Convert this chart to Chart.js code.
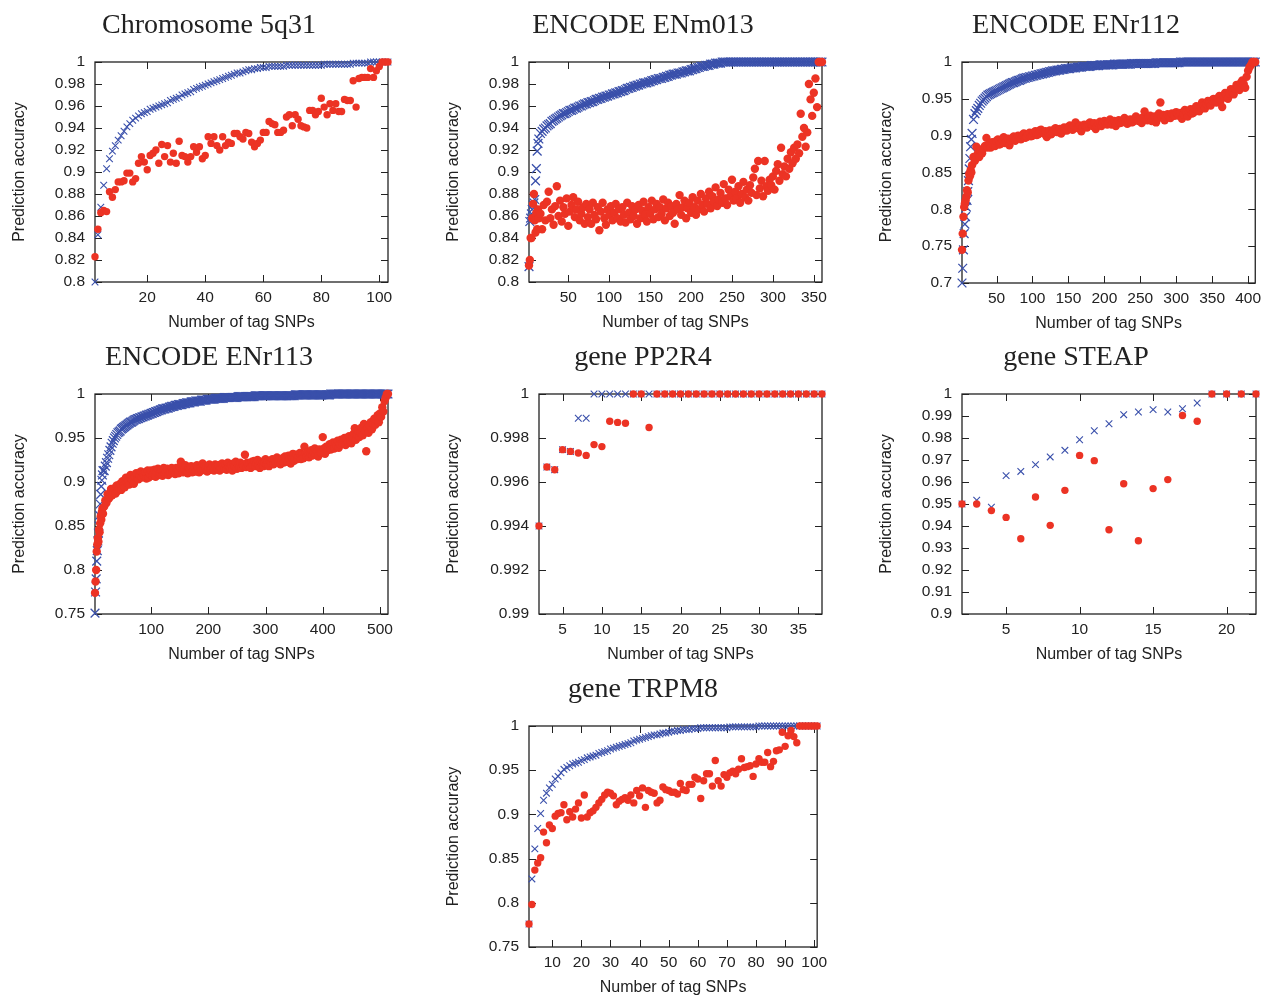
<!DOCTYPE html>
<html lang="en">
<head>
<meta charset="UTF-8">
<title>Prediction accuracy vs number of tag SNPs</title>
<style>
  html, body { margin: 0; padding: 0; background: #fff; overflow: hidden; }
  body { width: 1268px; height: 996px; position: relative; }
  canvas { position: absolute; }
</style>
</head>
<body>
<canvas id="c1"></canvas>
<canvas id="c2"></canvas>
<canvas id="c3"></canvas>
<canvas id="c4"></canvas>
<canvas id="c5"></canvas>
<canvas id="c6"></canvas>
<canvas id="c7"></canvas>

<script src="https://cdn.jsdelivr.net/npm/chart.js"></script>
<script>
// x values are tag SNP counts (consecutive integers)
function range(a, b, step) {
  const out = [];
  for (let v = a; v <= b; v += (step || 1)) out.push(v);
  return out;
}

// ---- Chromosome 5q31 ----
const chr5X = range(2, 103);
const chr5Blue = [
  0.800,0.843,0.868,0.888,0.903,0.912,0.919,0.924,0.929,0.933,
  0.937,0.941,0.944,0.947,0.949,0.951,0.953,0.954,0.955,0.957,
  0.958,0.959,0.960,0.961,0.962,0.963,0.965,0.966,0.967,0.968,
  0.970,0.971,0.972,0.973,0.975,0.976,0.977,0.978,0.979,0.980,
  0.981,0.982,0.983,0.984,0.985,0.986,0.987,0.988,0.989,0.990,
  0.990,0.991,0.992,0.993,0.993,0.994,0.994,0.995,0.995,0.995,
  0.996,0.996,0.996,0.996,0.996,0.996,0.997,0.997,0.997,0.997,
  0.997,0.997,0.997,0.997,0.997,0.997,0.997,0.997,0.997,0.998,
  0.998,0.998,0.998,0.998,0.998,0.998,0.998,0.998,0.998,0.999,
  0.999,0.999,0.999,0.999,0.999,1,1,1,1,1,
  1,1
];
const chr5Red = [
  0.823,0.848,0.863,0.865,0.864,0.882,0.877,0.884,0.891,0.891,
  0.892,0.899,0.899,0.891,0.894,0.908,0.914,0.909,0.902,0.915,
  0.917,0.920,0.908,0.925,0.914,0.924,0.909,0.917,0.908,0.928,
  0.915,0.914,0.909,0.914,0.923,0.918,0.923,0.912,0.915,0.932,
  0.926,0.932,0.924,0.920,0.932,0.924,0.927,0.926,0.935,0.935,
  0.932,0.930,0.936,0.935,0.927,0.923,0.926,0.929,0.936,0.936,
  0.946,0.944,0.943,0.936,0.936,0.938,0.950,0.952,0.942,0.952,
  0.948,0.942,0.941,0.940,0.956,0.956,0.952,0.955,0.967,0.959,
  0.952,0.962,0.956,0.962,0.955,0.955,0.966,0.965,0.965,0.983,
  0.959,0.985,0.986,0.986,0.986,0.994,0.986,0.992,0.996,1,
  1,1
];

// ---- ENCODE ENm013 ----
const enm013X = [...range(2, 14), ...range(16, 360, 2)];
const enm013Blue = [
  0.814,0.855,0.858,0.862,0.866,0.870,0.872,0.875,0.892,0.903,0.919,0.926,0.930,
  0.935,0.937,0.939,0.940,0.942,0.943,0.944,0.946,0.947,0.948,
  0.949,0.950,0.951,0.952,0.953,0.953,0.954,0.955,0.956,0.956,
  0.957,0.958,0.958,0.959,0.960,0.960,0.961,0.962,0.962,0.963,
  0.963,0.964,0.964,0.965,0.966,0.966,0.967,0.967,0.968,0.968,
  0.969,0.969,0.970,0.970,0.971,0.971,0.972,0.972,0.973,0.973,
  0.974,0.974,0.975,0.976,0.976,0.977,0.977,0.978,0.978,0.979,
  0.979,0.980,0.980,0.981,0.981,0.981,0.982,0.982,0.983,0.983,
  0.984,0.984,0.985,0.985,0.985,0.986,0.986,0.987,0.987,0.988,
  0.988,0.989,0.989,0.989,0.990,0.990,0.990,0.991,0.991,0.992,
  0.992,0.992,0.993,0.993,0.994,0.994,0.995,0.995,0.996,0.996,
  0.996,0.997,0.997,0.997,0.998,0.998,0.998,0.999,0.999,0.999,
  0.999,
  1,1,1,1,1,1,1,1,1,1,
  1,1,1,1,1,1,1,1,1,1,
  1,1,1,1,1,1,1,1,1,1,
  1,1,1,1,1,1,1,1,1,1,
  1,1,1,1,1,1,1,1,1,1,
  1,1,1,1,1,1,1,1,1,1,
  1,1
];
const enm013Red = [
  0.815,0.820,0.840,0.840,0.858,0.871,0.880,0.856,0.845,0.863,0.848,0.866,0.858,
  0.862,0.848,0.870,0.856,0.873,0.882,0.858,0.866,0.852,0.869,
  0.887,0.860,0.874,0.855,0.868,0.862,0.876,0.851,0.864,0.870,
  0.877,0.859,0.866,0.873,0.856,0.862,0.868,0.853,0.871,0.859,
  0.866,0.853,0.872,0.861,0.857,0.868,0.847,0.864,0.872,0.858,
  0.852,0.866,0.861,0.869,0.856,0.863,0.871,0.858,0.866,0.855,
  0.868,0.861,0.854,0.872,0.863,0.857,0.869,0.860,0.866,0.853,
  0.870,0.858,0.865,0.873,0.861,0.855,0.868,0.862,0.874,0.857,
  0.866,0.871,0.859,0.868,0.862,0.875,0.856,0.867,0.872,0.860,
  0.869,0.863,0.853,0.871,0.866,0.879,0.861,0.868,0.874,0.858,
  0.867,0.872,0.863,0.877,0.868,0.861,0.874,0.866,0.880,0.870,
  0.864,0.876,0.871,0.882,0.867,0.878,0.873,0.886,0.869,0.875,
  0.881,0.872,0.889,0.876,0.870,0.884,0.878,0.893,0.874,0.882,
  0.876,0.887,0.872,0.880,0.891,0.877,0.884,0.874,0.888,0.881,
  0.895,0.903,0.879,0.910,0.885,0.892,0.878,0.910,0.887,0.883,
  0.893,0.888,0.896,0.884,0.901,0.907,0.892,0.922,0.898,0.905,
  0.896,0.912,0.903,0.918,0.908,0.922,0.912,0.925,0.917,0.953,
  0.932,0.940,0.923,0.936,0.980,0.966,0.951,0.972,0.985,0.959,
  1,1,1
];

// ---- ENCODE ENr112 ----
const enr112X = [...range(2, 16), ...range(18, 410, 2)];
const enr112Blue = [
  0.700,0.720,0.745,0.767,0.780,0.790,0.803,0.812,0.824,0.839,0.855,0.869,0.885,0.895,0.903,
  0.922,0.930,0.934,0.937,0.941,0.944,0.947,0.949,0.951,0.953,
  0.955,0.956,0.957,0.958,0.959,0.960,0.961,0.962,0.963,0.964,
  0.965,0.966,0.967,0.968,0.969,0.970,0.971,0.972,0.972,0.973,
  0.974,0.975,0.975,0.976,0.977,0.978,0.978,0.979,0.979,0.980,
  0.980,0.981,0.981,0.982,0.982,0.983,0.983,0.984,0.984,0.985,
  0.985,0.986,0.986,0.987,0.987,0.988,0.988,0.988,0.989,0.989,
  0.989,0.990,0.990,0.990,0.991,0.991,0.991,0.991,0.992,0.992,
  0.992,0.992,0.993,0.993,0.993,0.993,0.994,0.994,0.994,0.994,
  0.994,0.994,0.995,0.995,0.995,0.995,0.995,0.995,0.996,0.996,
  0.996,0.996,0.996,0.996,0.996,0.996,0.996,0.996,0.997,0.997,
  0.997,0.997,0.997,0.997,0.997,0.997,0.997,0.997,0.997,0.997,
  0.998,0.998,0.998,0.998,0.998,0.998,0.998,0.998,0.998,0.998,
  0.998,0.998,0.998,0.998,0.998,0.998,0.998,0.999,0.999,0.999,
  0.999,0.999,0.999,0.999,0.999,0.999,0.999,0.999,0.999,0.999,
  0.999,0.999,0.999,0.999,1,1,1,1,1,1,
  1,1,1,1,1,1,1,1,1,1,
  1,1,1,1,1,1,1,1,1,1,
  1,1,1,1,1,1,1,1,1,1,
  1,1,1,1,1,1,1,1,1,1,
  1,1,1,1,1,1,1
];
const enr112Red = [
  0.745,0.767,0.790,0.803,0.808,0.812,0.817,0.826,0.823,0.839,0.848,0.845,0.853,0.850,0.860,
  0.871,0.866,0.885,0.876,0.871,0.880,0.876,0.883,0.886,0.897,
  0.884,0.889,0.884,0.891,0.887,0.886,0.893,0.895,0.888,0.889,
  0.894,0.898,0.890,0.892,0.896,0.887,0.893,0.897,0.899,0.893,
  0.896,0.900,0.897,0.895,0.901,0.903,0.897,0.898,0.902,0.904,
  0.899,0.900,0.904,0.906,0.901,0.902,0.907,0.908,0.904,0.903,
  0.906,0.898,0.904,0.907,0.902,0.904,0.908,0.910,0.905,0.905,
  0.909,0.903,0.906,0.911,0.908,0.907,0.912,0.914,0.909,0.908,
  0.913,0.918,0.911,0.910,0.914,0.906,0.911,0.915,0.912,0.911,
  0.916,0.918,0.914,0.913,0.917,0.909,0.913,0.917,0.919,0.913,
  0.917,0.920,0.916,0.915,0.918,0.922,0.915,0.917,0.920,0.913,
  0.918,0.921,0.917,0.918,0.921,0.924,0.919,0.916,0.920,0.922,
  0.918,0.919,0.923,0.926,0.921,0.920,0.923,0.917,0.925,0.933,
  0.922,0.921,0.925,0.927,0.920,0.923,0.926,0.918,0.923,0.930,
  0.945,0.925,0.928,0.921,0.924,0.929,0.926,0.924,0.930,0.928,
  0.927,0.932,0.929,0.927,0.931,0.923,0.929,0.935,0.932,0.926,
  0.933,0.936,0.930,0.931,0.937,0.940,0.934,0.933,0.939,0.945,
  0.941,0.937,0.943,0.947,0.944,0.941,0.948,0.950,0.946,0.945,
  0.951,0.954,0.948,0.939,0.953,0.958,0.955,0.950,0.957,0.963,
  0.959,0.956,0.964,0.969,0.966,0.962,0.972,0.975,0.970,0.965,
  0.980,0.988,0.993,0.996,1,1,1
];

// ---- ENCODE ENr113 ----
const enr113X = [...range(2, 16), ...range(18, 514, 2)];
const enr113Blue = [
  0.751,0.775,0.790,0.810,0.822,0.833,0.842,0.850,0.862,0.875,0.886,0.895,0.902,0.908,0.913,
  0.913,0.918,0.922,0.927,0.931,0.936,0.940,0.944,0.947,0.950,
  0.952,0.954,0.956,0.957,0.958,0.960,0.961,0.962,0.963,0.964,
  0.965,0.966,0.967,0.968,0.968,0.969,0.970,0.971,0.971,0.972,
  0.972,0.973,0.973,0.974,0.974,0.975,0.975,0.976,0.976,0.977,
  0.977,0.978,0.978,0.979,0.979,0.980,0.980,0.981,0.981,0.982,
  0.982,0.983,0.983,0.983,0.984,0.984,0.984,0.985,0.985,0.986,
  0.986,0.986,0.987,0.987,0.987,0.988,0.988,0.988,0.988,0.989,
  0.989,0.989,0.990,0.990,0.990,0.990,0.991,0.991,0.991,0.991,
  0.992,0.992,0.992,0.992,0.992,0.993,0.993,0.993,0.993,0.993,
  0.994,0.994,0.994,0.994,0.994,0.994,0.994,0.995,0.995,0.995,
  0.995,0.995,0.995,0.995,0.995,0.996,0.996,0.996,0.996,0.996,
  0.996,0.996,0.996,0.996,0.996,0.996,0.996,0.997,0.997,0.997,
  0.997,0.997,0.997,0.997,0.997,0.997,0.997,0.997,0.997,0.997,
  0.997,0.997,0.998,0.998,0.998,0.998,0.998,0.998,0.998,0.998,
  0.998,0.998,0.998,0.998,0.998,0.998,0.998,0.998,0.998,0.998,
  0.998,0.998,0.998,0.998,0.998,0.998,0.998,0.998,0.998,0.998,
  0.998,0.998,0.998,0.998,0.998,0.998,0.998,0.999,0.999,0.999,
  0.999,0.999,0.999,0.999,0.999,0.999,0.999,0.999,0.999,0.999,
  0.999,0.999,0.999,0.999,0.999,0.999,0.999,0.999,0.999,0.999,
  0.999,0.999,0.999,0.999,0.999,0.999,0.999,0.999,1,1,
  1,1,1,1,1,1,1,1,1,1,
  1,1,1,1,1,1,1,1,1,1,
  1,1,1,1,1,1,1,1,1,1,
  1,1,1,1,1,1,1,1,1,1,
  1,1,1,1,1,1,1,1,1
];
const enr113Red = [
  0.774,0.787,0.800,0.821,0.829,0.836,0.832,0.846,0.843,0.853,0.861,0.857,0.866,0.870,0.864,
  0.872,0.879,0.876,0.886,0.881,0.883,0.892,0.885,0.888,0.893,
  0.887,0.896,0.890,0.893,0.898,0.891,0.901,0.896,0.894,0.905,
  0.899,0.900,0.897,0.908,0.903,0.902,0.898,0.906,0.910,0.904,
  0.903,0.907,0.912,0.905,0.909,0.907,0.911,0.904,0.913,0.905,
  0.909,0.913,0.907,0.909,0.914,0.906,0.911,0.915,0.908,0.910,
  0.913,0.907,0.916,0.909,0.911,0.915,0.908,0.912,0.910,0.916,
  0.911,0.913,0.909,0.916,0.912,0.910,0.917,0.923,0.913,0.911,
  0.915,0.919,0.912,0.910,0.916,0.914,0.918,0.911,0.913,0.917,
  0.912,0.919,0.915,0.911,0.916,0.913,0.921,0.914,0.918,0.915,
  0.912,0.917,0.920,0.914,0.916,0.918,0.913,0.920,0.917,0.915,
  0.919,0.913,0.916,0.921,0.918,0.915,0.920,0.914,0.922,0.917,
  0.916,0.919,0.913,0.921,0.918,0.923,0.915,0.919,0.917,0.922,
  0.916,0.920,0.918,0.931,0.917,0.922,0.919,0.921,0.916,0.923,
  0.919,0.924,0.918,0.921,0.925,0.919,0.916,0.923,0.920,0.918,
  0.922,0.926,0.920,0.923,0.918,0.924,0.921,0.926,0.920,0.925,
  0.922,0.928,0.923,0.926,0.920,0.924,0.927,0.922,0.929,0.925,
  0.923,0.930,0.926,0.921,0.928,0.932,0.924,0.927,0.931,0.926,
  0.929,0.933,0.926,0.931,0.927,0.940,0.932,0.929,0.934,0.928,
  0.933,0.936,0.930,0.934,0.938,0.931,0.935,0.929,0.937,0.934,
  0.933,0.951,0.938,0.932,0.940,0.936,0.939,0.943,0.937,0.942,
  0.945,0.938,0.944,0.941,0.947,0.939,0.943,0.948,0.944,0.946,
  0.950,0.942,0.949,0.945,0.952,0.947,0.944,0.951,0.955,0.961,
  0.948,0.954,0.958,0.951,0.956,0.962,0.953,0.966,0.958,0.935,
  0.961,0.956,0.964,0.968,0.960,0.966,0.972,0.965,0.970,0.976,
  0.968,0.978,0.974,0.985,0.980,0.992,0.996,1,1
];

// ---- gene PP2R4 ----
const pp2r4X = range(2, 38);
const pp2r4Blue = [
  0.994,0.99668,0.99656,0.99747,0.99739,0.9989,0.9989,
  1,1,1,1,1,1,1,1,1,1,1,1,1,1,1,1,1,1,1,1,1,1,1,1,1,1,1,1,1,1
];
const pp2r4Red = [
  0.994,0.99668,0.99656,0.99747,0.99739,0.99732,0.99721,0.9977,0.99761,
  0.99876,0.99871,0.99867,1,1,0.99848,
  1,1,1,1,1,1,1,1,1,1,1,1,1,1,1,1,1,1,1,1,1,1
];

// ---- gene STEAP ----
const steapX = range(2, 22);
const steapBlue = [
  0.950,0.9517,0.9485,0.9629,0.9648,0.9679,0.9714,0.9744,0.9792,0.9833,
  0.9865,0.9906,0.9918,0.9929,0.9918,0.9933,0.9959,1,1,1,1
];
const steapRed = [
  0.950,0.950,0.947,0.9439,0.9342,0.9532,0.9403,0.9562,0.9721,0.9697,
  0.9383,0.9592,0.9333,0.957,0.9611,0.9902,0.9876,1,1,1,1
];

// ---- gene TRPM8 ----
const trpm8X = range(2, 101);
const trpm8Blue = [
  0.776,0.827,0.861,0.884,0.901,0.916,0.924,0.930,0.934,0.940,
  0.943,0.947,0.951,0.953,0.955,0.957,0.958,0.959,0.961,0.962,
  0.964,0.965,0.966,0.967,0.969,0.970,0.971,0.972,0.974,0.975,
  0.976,0.977,0.978,0.979,0.980,0.981,0.983,0.984,0.985,0.986,
  0.987,0.988,0.989,0.990,0.990,0.991,0.992,0.992,0.993,0.994,
  0.994,0.995,0.995,0.996,0.996,0.996,0.997,0.997,0.997,0.998,
  0.998,0.998,0.998,0.998,0.998,0.998,0.998,0.998,0.998,0.999,
  0.999,0.999,0.999,0.999,0.999,0.999,0.999,0.999,0.999,1,
  1,1,1,1,1,1,1,1,1,1,
  1,1,1,1,1,1,1,1,1,1
];
const trpm8Red = [
  0.776,0.798,0.837,0.845,0.851,0.880,0.868,0.888,0.884,0.898,
  0.901,0.902,0.911,0.894,0.903,0.897,0.906,0.913,0.896,0.922,
  0.897,0.902,0.904,0.908,0.913,0.917,0.922,0.925,0.924,0.921,
  0.911,0.915,0.917,0.919,0.916,0.922,0.913,0.927,0.921,0.930,
  0.908,0.927,0.925,0.924,0.913,0.916,0.931,0.928,0.927,0.925,
  0.925,0.923,0.935,0.928,0.927,0.934,0.934,0.942,0.940,0.918,
  0.938,0.946,0.946,0.932,0.961,0.938,0.932,0.945,0.942,0.947,
  0.949,0.946,0.951,0.963,0.953,0.954,0.955,0.943,0.957,0.963,
  0.959,0.959,0.970,0.954,0.960,0.972,0.973,0.993,0.977,0.989,
  0.995,0.988,0.981,1,1,1,1,1,1,1
];

// ---- tick labels ----
const ticksX20 = [20, 40, 60, 80, 100];
const ticksX50 = [50, 100, 150, 200, 250, 300, 350];
const ticksX50b = [50, 100, 150, 200, 250, 300, 350, 400];
const ticksX100 = [100, 200, 300, 400, 500];
const ticksX5 = [5, 10, 15, 20, 25, 30, 35];
const ticksX5b = [5, 10, 15, 20];
const ticksX10 = [10, 20, 30, 40, 50, 60, 70, 80, 90, 100];
const ticksY002 = [0.8, 0.82, 0.84, 0.86, 0.88, 0.9, 0.92, 0.94, 0.96, 0.98, 1];
const ticksY005a = [0.7, 0.75, 0.8, 0.85, 0.9, 0.95, 1];
const ticksY005b = [0.75, 0.8, 0.85, 0.9, 0.95, 1];
const ticksY0002 = [0.99, 0.992, 0.994, 0.996, 0.998, 1];
const ticksY001 = [0.9, 0.91, 0.92, 0.93, 0.94, 0.95, 0.96, 0.97, 0.98, 0.99, 1];

const BLUE = '#3a50ab';
const RED = '#ec3324';
const INK = '#222';
const SANS = '"Liberation Sans", Arial, sans-serif';
const TICK = 7;

// marker sizes: the three long regions were printed with larger symbols
const SMALL = { red: 3.7, cross: 4.7, crossW: 1.1 };
const LARGE = { red: 4.2, cross: 6.2, crossW: 1.3 };

// panel layout: canvas left/top, y-axis width, plot box size
const panels = [
  { id: 'c1', title: 'Chromosome 5q31', left: 0, top: 0, yw: 95, w: 293, h: 220, m: SMALL,
    xMin: 2, xMax: 103, yMin: 0.8, yMax: 1, xt: ticksX20, yt: ticksY002, x: chr5X, blue: chr5Blue, red: chr5Red },
  { id: 'c2', title: 'ENCODE ENm013', left: 434, top: 0, yw: 95, w: 293, h: 220, m: LARGE,
    xMin: 2, xMax: 360, yMin: 0.8, yMax: 1, xt: ticksX50, yt: ticksY002, x: enm013X, blue: enm013Blue, red: enm013Red },
  { id: 'c3', title: 'ENCODE ENr112', left: 867, top: 0, yw: 95, w: 294, h: 221, m: LARGE,
    xMin: 2, xMax: 410, yMin: 0.7, yMax: 1, xt: ticksX50b, yt: ticksY005a, x: enr112X, blue: enr112Blue, red: enr112Red },
  { id: 'c4', title: 'ENCODE ENr113', left: 0, top: 332, yw: 95, w: 293, h: 220, m: LARGE,
    xMin: 2, xMax: 514, yMin: 0.75, yMax: 1, xt: ticksX100, yt: ticksY005b, x: enr113X, blue: enr113Blue, red: enr113Red },
  { id: 'c5', title: 'gene PP2R4', left: 434, top: 332, yw: 105, w: 283, h: 220, m: SMALL,
    xMin: 2, xMax: 38, yMin: 0.99, yMax: 1, xt: ticksX5, yt: ticksY0002, x: pp2r4X, blue: pp2r4Blue, red: pp2r4Red },
  { id: 'c6', title: 'gene STEAP', left: 867, top: 332, yw: 95, w: 294, h: 220, m: SMALL,
    xMin: 2, xMax: 22, yMin: 0.9, yMax: 1, xt: ticksX5b, yt: ticksY001, x: steapX, blue: steapBlue, red: steapRed },
  { id: 'c7', title: 'gene TRPM8', left: 434, top: 664, yw: 95, w: 293, h: 221, m: SMALL,
    xMin: 2, xMax: 101, yMin: 0.75, yMax: 1, xt: ticksX10, yt: ticksY005b, x: trpm8X, blue: trpm8Blue, red: trpm8Red }
];

// gnuplot-like frame with inward ticks on all four sides, plus the panel title
const frame = {
  id: 'frame',
  beforeDatasetsDraw(chart) {
    const { ctx, chartArea: a, scales } = chart;
    ctx.save();
    ctx.strokeStyle = INK;
    ctx.lineWidth = 1;
    ctx.beginPath();
    scales.x.ticks.forEach(t => {
      const px = Math.round(scales.x.getPixelForValue(t.value)) + 0.5;
      ctx.moveTo(px, a.bottom); ctx.lineTo(px, a.bottom - TICK);
      ctx.moveTo(px, a.top); ctx.lineTo(px, a.top + TICK);
    });
    scales.y.ticks.forEach(t => {
      const py = Math.round(scales.y.getPixelForValue(t.value)) + 0.5;
      ctx.moveTo(a.left, py); ctx.lineTo(a.left + TICK, py);
      ctx.moveTo(a.right, py); ctx.lineTo(a.right - TICK, py);
    });
    ctx.stroke();
    ctx.lineWidth = 1.3;
    ctx.strokeRect(a.left, a.top, a.right - a.left, a.bottom - a.top);
    ctx.restore();
  },
  afterDraw(chart, args, opts) {
    const { ctx, chartArea: a } = chart;
    ctx.save();
    ctx.font = '28px "Liberation Serif", "Times New Roman", serif';
    ctx.fillStyle = INK;
    ctx.textAlign = 'center';
    ctx.textBaseline = 'alphabetic';
    ctx.fillText(opts.text, 209, a.top - 29);
    ctx.restore();
  }
};

function pts(xs, ys) {
  return xs.map((v, i) => ({ x: v, y: ys[i] }));
}

panels.forEach(p => {
  const canvas = document.getElementById(p.id);
  canvas.width = p.yw + p.w + 12;
  canvas.height = 62 + p.h + 55;
  canvas.style.left = p.left + 'px';
  canvas.style.top = p.top + 'px';

  new Chart(canvas, {
    type: 'scatter',
    data: {
      datasets: [
        { label: 'red', data: pts(p.x, p.red), pointStyle: 'circle', pointRadius: p.m.red,
          backgroundColor: RED, borderWidth: 0, clip: false },
        { label: 'blue', data: pts(p.x, p.blue), pointStyle: 'crossRot', pointRadius: p.m.cross,
          borderColor: BLUE, backgroundColor: BLUE, borderWidth: p.m.crossW, clip: false }
      ]
    },
    options: {
      responsive: false,
      animation: false,
      events: [],
      layout: { padding: { top: 62, right: 12, left: 0, bottom: 0 } },
      plugins: {
        legend: { display: false },
        tooltip: { enabled: false },
        frame: { text: p.title }
      },
      scales: {
        x: {
          type: 'linear', min: p.xMin, max: p.xMax,
          grid: { display: false, drawTicks: false },
          border: { display: false },
          afterBuildTicks: s => { s.ticks = p.xt.map(v => ({ value: v })); },
          afterFit: s => { s.height = 55; },
          ticks: { autoSkip: false, maxRotation: 0, padding: 6.7, color: INK,
                   font: { family: SANS, size: 15.5 } },
          title: { display: true, text: 'Number of tag SNPs', color: INK,
                   font: { family: SANS, size: 16 }, padding: { top: 0, bottom: 4.4 } }
        },
        y: {
          type: 'linear', min: p.yMin, max: p.yMax,
          grid: { display: false, drawTicks: false },
          border: { display: false },
          afterBuildTicks: s => { s.ticks = p.yt.map(v => ({ value: v })); },
          afterFit: s => { s.width = p.yw; },
          ticks: { autoSkip: false, padding: 10, color: INK,
                   font: { family: SANS, size: 15.5 },
                   callback: v => String(parseFloat(v.toFixed(4))) },
          title: { display: true, text: 'Prediction accuracy', color: INK,
                   font: { family: SANS, size: 16 }, padding: { top: 10.4, bottom: 0 } }
        }
      }
    },
    plugins: [frame]
  });
});
</script>
</body>
</html>
